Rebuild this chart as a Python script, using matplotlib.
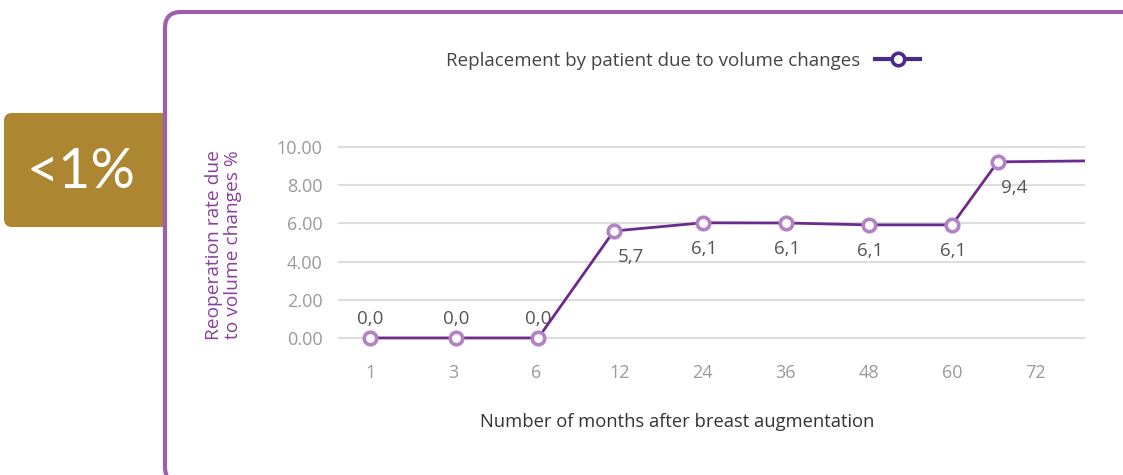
import matplotlib.pyplot as plt
from matplotlib.patches import FancyBboxPatch

# data
months = ["1", "3", "6", "12", "24", "36", "48", "60", "72"]
x_pos = [0, 1.03, 2.02, 2.93, 4.0, 5.0, 6.0, 7.0, 7.55, 8.6]
rate = [0.0, 0.0, 0.0, 5.6, 6.03, 6.02, 5.92, 5.92, 9.22, 9.27]
labels = ["0,0", "0,0", "0,0", "5,7", "6,1", "6,1", "6,1", "6,1", "9,4"]
yticks = [0, 2, 4, 6, 8, 10]

plt.rcParams['font.family'] = ['Open Sans', 'DejaVu Sans']

W, H = 1123, 475
fig = plt.figure(figsize=(W / 100, H / 100), dpi=100)
asp = W / H

# gold box with <1%
gold = FancyBboxPatch((4 / W, 1 - 227 / H), 170 / W, 114 / H,
                      boxstyle="round,pad=0,rounding_size=%f" % (8 / W),
                      mutation_aspect=asp,
                      transform=fig.transFigure, facecolor="#ad8631",
                      edgecolor="none", zorder=1)
fig.patches.append(gold)
fig.text(81 / W, 1 - 172 / H, "<1%", color="white", fontsize=40,
         fontfamily="Lato", ha="center", va="center", zorder=3)

# purple frame
frame = FancyBboxPatch((165 / W, -8 / H), 1.0, 1 - 4 / H,
                       boxstyle="round,pad=0,rounding_size=%f" % (16 / W),
                       mutation_aspect=asp,
                       transform=fig.transFigure, facecolor="white",
                       edgecolor="#9b5fae", linewidth=3, zorder=2)
fig.patches.append(frame)

left, right = 338, 1085
ax = fig.add_axes([left / W, 0.2684, (right - left) / W, 0.4423])
ax.set_zorder(5)
ax.patch.set_alpha(0)

ax.plot(x_pos[:-1], rate[:-1], color="#6c2a8c", lw=2, marker="o",
        markersize=9, markerfacecolor="white", markeredgecolor="#b381c4",
        markeredgewidth=2.6, zorder=4,
        label="Replacement by patient due to volume changes")
ax.plot(x_pos[-2:], rate[-2:], color="#6c2a8c", lw=2, zorder=3)

for i, lab in enumerate(labels):
    if rate[i] < 1:
        off = (0, 14)
    elif i == 3 or i == 8:
        off = (12, -19)
    else:
        off = (1, -19)
    ax.annotate(lab, (x_pos[i], rate[i]), xytext=off, textcoords="offset points",
                ha="center", va="center", fontsize=13.5, color="#555555")

ax.set_xlim(-0.39, 8.6)
ax.set_ylim(-0.5, 10.5)
ax.set_yticks(yticks)
ax.set_yticklabels([f"{v:.2f}" for v in yticks])
ax.set_xticks(range(len(months)))
ax.set_xticklabels(months)
ax.tick_params(length=0, labelsize=13, labelcolor="#9a9a9a")
ax.tick_params(axis="y", pad=11)
ax.tick_params(axis="x", pad=12)
ax.grid(axis="y", color="#dddddd", lw=1.5)
ax.set_axisbelow(True)
for s in ax.spines.values():
    s.set_visible(False)

ax.set_xlabel("Number of months after breast augmentation", fontsize=13.2,
              color="#333333")
ax.xaxis.set_label_coords((677 - left) / (right - left), -(413 - 347.5) / 210)
ax.set_ylabel("Reoperation rate due\nto volume changes %", fontsize=13.8,
              color="#8a3f9c", linespacing=1.1)
ax.yaxis.set_label_coords(-(left - 242) / (right - left), (347.5 - 245) / 210)

leg = fig.legend(loc="center", bbox_to_anchor=(683 / W, 1 - 61 / H),
                 frameon=False, markerfirst=False, fontsize=13.5,
                 handlelength=2.4, labelcolor="#444444")
for h in leg.legend_handles:
    h.set_color("#4a2a8c")
    h.set_markeredgecolor("#4a2a8c")
    h.set_linewidth(3)

fig.savefig("out.png", dpi=100)
